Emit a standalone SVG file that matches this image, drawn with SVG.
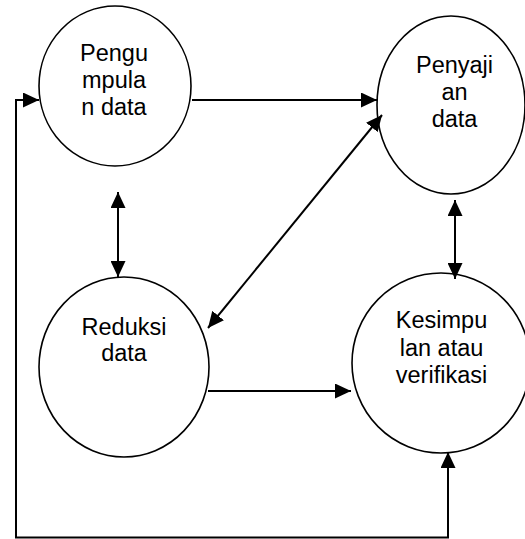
<svg xmlns="http://www.w3.org/2000/svg" width="525" height="539" viewBox="0 0 525 539">
  <style>
    .node ellipse { fill: #ffffff; stroke: #000000; stroke-width: 1.6; }
    .node text { font-family: "Liberation Sans", Arial, sans-serif; font-size: 23.5px; fill: #000000; text-anchor: middle; }
    .conn { fill: none; stroke: #000000; stroke-width: 2; }
  </style>
  <defs>
    <marker id="ah" viewBox="0 0 16 15" refX="16" refY="7.5" markerWidth="16" markerHeight="15" markerUnits="userSpaceOnUse" orient="auto-start-reverse">
      <polygon points="0,0 16,7.5 0,15" fill="#000000"/>
    </marker>
  </defs>
  <rect x="0" y="0" width="525" height="539" fill="#ffffff"/>

  <g id="n1" class="node">
    <ellipse cx="115" cy="86" rx="76" ry="80"/>
    <text x="114" y="61">Pengu</text>
    <text x="114" y="88">mpula</text>
    <text x="114" y="115">n data</text>
  </g>
  <g id="n2" class="node">
    <ellipse cx="451" cy="105" rx="74" ry="89"/>
    <text x="454.5" y="73">Penyaji</text>
    <text x="454.5" y="100">an</text>
    <text x="454.5" y="127">data</text>
  </g>
  <g id="n3" class="node">
    <ellipse cx="124" cy="367" rx="85" ry="90"/>
    <text x="124" y="335">Reduksi</text>
    <text x="124" y="361">data</text>
  </g>
  <g id="n4" class="node">
    <ellipse cx="441" cy="363" rx="89" ry="90"/>
    <text x="441.5" y="328">Kesimpu</text>
    <text x="441.5" y="356">lan atau</text>
    <text x="441.5" y="383">verifikasi</text>
  </g>

  <g id="connectors">
    <line class="conn" x1="192" y1="100" x2="377" y2="100" marker-end="url(#ah)"/>
    <line class="conn" x1="118" y1="192" x2="118" y2="277" marker-start="url(#ah)" marker-end="url(#ah)"/>
    <line class="conn" x1="382" y1="115" x2="208" y2="328" marker-start="url(#ah)" marker-end="url(#ah)"/>
    <line class="conn" x1="455" y1="200" x2="455" y2="279" marker-start="url(#ah)" marker-end="url(#ah)"/>
    <line class="conn" x1="208" y1="391" x2="351" y2="391" marker-end="url(#ah)"/>
    <path class="conn" d="M 448 452 L 448 537.5 L 16 537.5 L 16 100 L 39 100" marker-start="url(#ah)" marker-end="url(#ah)"/>
  </g>
</svg>
